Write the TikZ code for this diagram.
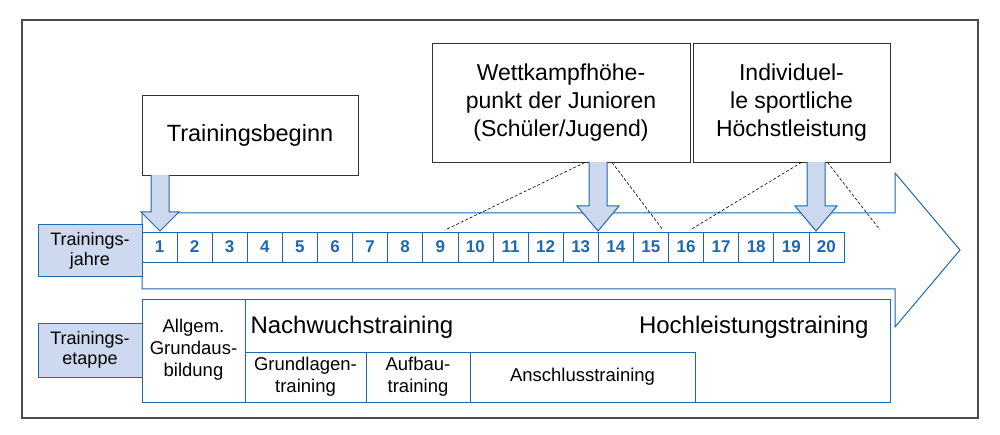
\documentclass[tikz,border=0pt]{standalone}
\usepackage{fontspec}
\setmainfont{Liberation Sans}
\definecolor{bl}{HTML}{1E68B0}
\definecolor{lb}{HTML}{CCD9EE}
\begin{document}
\begin{tikzpicture}[x=1pt,y=-1pt,
 lab/.style={draw=bl,fill=lb,line width=1pt,align=center,font=\fontsize{18}{20}\selectfont,inner sep=0pt},
 yr/.style={text=bl,font=\fontsize{17}{18}\selectfont\bfseries},
 cellt/.style={align=center,font=\fontsize{18.5}{22}\selectfont,inner sep=0pt},
 big/.style={font=\fontsize{23}{28}\selectfont,align=center},
 tbox/.style={draw=black!80,line width=0.8pt},
 darr/.style={draw=bl,fill=lb,line width=1pt},
 dl/.style={densely dashed,line width=0.6pt}]
\useasboundingbox (0,0) rectangle (1000,435);
\draw[black!70,line width=1.5pt] (22,20) rectangle (978,418);
% big arrow
\draw[bl,line width=1pt,fill=white] (142,213) -- (895,213) -- (895,173) -- (960,250) -- (895,327) -- (895,289) -- (142,289) -- cycle;
% year cells
\foreach \i in {1,...,20}{
 \pgfmathsetmacro\xa{142+(\i-1)*35.1}
 \draw[bl,line width=0.8pt,fill=white] (\xa,232) rectangle ++(35.1,30);
 \node[yr] (y\i) at (\xa+17.5,247) {\i};}
\node[lab,minimum width=104pt,minimum height=52pt] (lj) at (90,251) {Trainings-\\jahre};
% stage table
\draw[bl,line width=1pt,fill=white] (142,299) rectangle (890,402);
\draw[bl,line width=1pt] (245,299) -- (245,402) (245,352) -- (695,352) (695,352) -- (695,402)
 (366,352) -- (366,402) (470,352) -- (470,402);
\node[lab,minimum width=104pt,minimum height=54pt] (le) at (90,350) {Trainings-\\etappe};
\node[cellt] (ag) at (193.5,350) {Allgem.\\Grundaus-\\bildung};
\node[big,anchor=west,font=\fontsize{24}{28}\selectfont] (nw) at (247,327) {Nachwuchstraining};
\node[big,anchor=east,font=\fontsize{24}{28}\selectfont] (hl) at (872,327) {Hochleistungstraining};
\node[cellt] (gl) at (305.5,377) {Grundlagen-\\training};
\node[cellt] (ab) at (418,377) {Aufbau-\\training};
\node[cellt] (an) at (582.5,377) {Anschlusstraining};
% top boxes
\node[tbox,big,minimum width=216pt,minimum height=80pt,font=\fontsize{23.5}{28}\selectfont] (tb) at (250,135) {Trainingsbeginn};
\node[tbox,big,minimum width=258pt,minimum height=119pt] (wk) at (561,102.5) {Wettkampfhöhe-\\punkt der Junioren\\(Schüler/Jugend)};
\node[tbox,big,minimum width=197pt,minimum height=119pt] (iv) at (791.5,102.5) {Individuel-\\le sportliche\\Höchstleistung};
% down arrows
\draw[darr] (151,175) -- (151,212) -- (141,212) -- (160,231) -- (179,212) -- (169,212) -- (169,175);
\draw[darr] (589,162) -- (589,206) -- (577,206) -- (598,231) -- (619,206) -- (607,206) -- (607,162);
\draw[darr] (807,162) -- (807,206) -- (795,206) -- (816,231) -- (837,206) -- (825,206) -- (825,162);
% dashed
\coordinate (d1) at (445,230); \coordinate (d2) at (663,230);
\coordinate (d3) at (690,230); \coordinate (d4) at (880,230);
\draw[dl] (wk.south)++(24,0) -- (d1);
\draw[dl] (wk.south)++(51,0) -- (d2);
\draw[dl] (iv.south)++(10,0) -- (d3);
\draw[dl] (iv.south)++(36,0) -- (d4);
\end{tikzpicture}
\end{document}
